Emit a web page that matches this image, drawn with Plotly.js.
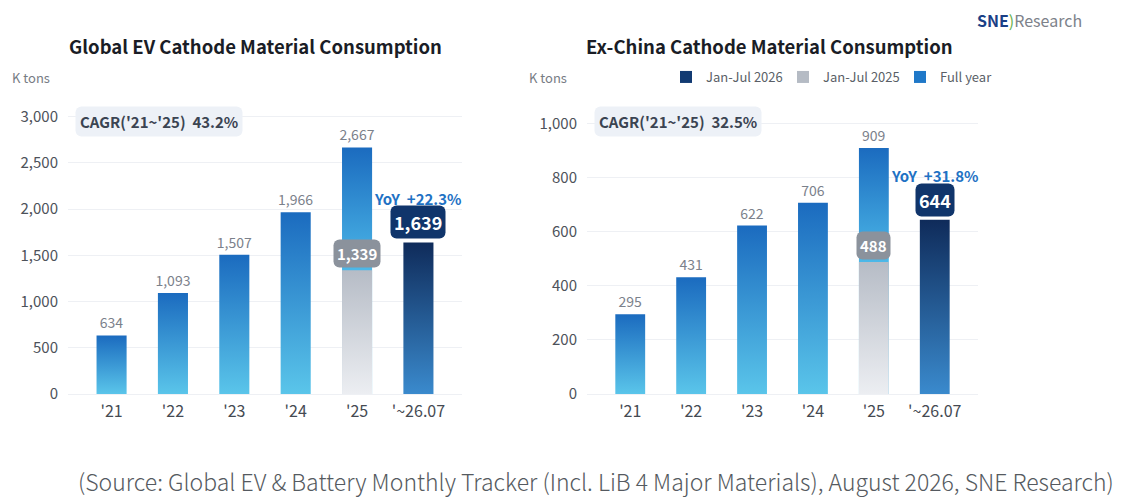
<!DOCTYPE html>
<html>
<head>
<meta charset="utf-8">
<script src="https://cdn.plot.ly/plotly-3.0.1.min.js"></script>
<style>
  html, body { margin: 0; padding: 0; background: #fff; }
  #chart { width: 1121px; height: 498px; }
</style>
</head>
<body>
<div id="chart"></div>
<script>
// ---------- data ----------
const categories = ["'21", "'22", "'23", "'24", "'25", "'~26.07"];
const fullYearCats = ["'21", "'22", "'23", "'24", "'25"];

const globalFullYear = [634, 1093, 1507, 1966, 2667];
const globalJanJul2025 = [1339];
const globalJanJul2026 = [1639];
const globalCagr = "43.2%";
const globalYoY = "+22.3%";

const exChinaFullYear = [295, 431, 622, 706, 909];
const exChinaJanJul2025 = [488];
const exChinaJanJul2026 = [644];
const exChinaCagr = "32.5%";
const exChinaYoY = "+31.8%";

const seriesNames = ["Jan-Jul 2026", "Jan-Jul 2025", "Full year"];

// ---------- style ----------
const FONT = "'Noto Sans CJK KR', 'Noto Sans', sans-serif";
const C_NAVY = "#123a72";
const C_GREY = "#b5bbc4";
const C_BLUE = "#1f78c8";
const NB = "\u00a0";
const fmt = v => v.toLocaleString('en-US');

function traces(full, jan25, jan26, xa, ya, showLegend) {
  return [
    { type: 'bar', name: seriesNames[2], x: fullYearCats, y: full, xaxis: xa, yaxis: ya,
      marker: { color: C_BLUE }, width: 0.49, legendrank: 3, showlegend: showLegend,
      text: full.map(fmt), textposition: 'outside', cliponaxis: false, constraintext: 'none',
      textfont: { family: FONT, size: 14, color: '#7b818b' }, meta: 'full', hoverinfo: 'x+y' },
    { type: 'bar', name: seriesNames[1], x: [categories[4]], y: jan25, xaxis: xa, yaxis: ya,
      marker: { color: C_GREY }, width: 0.49, legendrank: 2, showlegend: showLegend,
      meta: 'jan25', hoverinfo: 'x+y' },
    { type: 'bar', name: seriesNames[0], x: [categories[5]], y: jan26, xaxis: xa, yaxis: ya,
      marker: { color: C_NAVY }, width: 0.49, legendrank: 1, showlegend: showLegend,
      meta: 'jan26', hoverinfo: 'x+y' }
  ];
}

const data = [
  ...traces(globalFullYear, globalJanJul2025, globalJanJul2026, 'x', 'y', false),
  ...traces(exChinaFullYear, exChinaJanJul2025, exChinaJanJul2026, 'x2', 'y2', true)
];

const W = 1121, H = 498, MT = 100, MB = 104;
const PH = H - MT - MB;
const px = x => x / W;
const py = y => (H - MB - y) / PH;

function badges(xa, ya, jan25, jan26, yoy, cagr) {
  const xd = xa === 'x' ? 'x domain' : 'x2 domain';
  const yd = ya === 'y' ? 'y domain' : 'y2 domain';
  return [
    { xref: xd, yref: yd, x: 0.017, y: 0.927, xanchor: 'left', yanchor: 'middle', showarrow: false,
      text: '<b>CAGR(\'21~\'25)' + NB + NB + cagr + '</b>', bgcolor: '#edf1f7', borderpad: 4,
      font: { family: FONT, size: 15, color: '#3b4452' } },
    { xref: xa, yref: ya, x: categories[4], y: jan25[0], xanchor: 'center', yanchor: 'bottom',
      yshift: 2, showarrow: false, text: '<b>' + fmt(jan25[0]) + '</b>', bgcolor: '#8b929c',
      borderpad: 3, font: { family: FONT, size: 15, color: '#ffffff' } },
    { xref: xa, yref: ya, x: categories[5], y: jan26[0], xanchor: 'center', yanchor: 'bottom',
      yshift: 3, showarrow: false, text: '<b>' + fmt(jan26[0]) + '</b>', bgcolor: '#10356b',
      borderpad: 3, font: { family: FONT, size: 18, color: '#ffffff' } },
    { xref: xa, yref: ya, x: categories[5], y: jan26[0], xanchor: 'center', yanchor: 'middle',
      yshift: 44, showarrow: false, text: '<b>YoY' + NB + NB + yoy + '</b>',
      font: { family: FONT, size: 15, color: '#1f72c4' } }
  ];
}

const axisX = domain => ({
  domain: domain, type: 'category', categoryorder: 'array', categoryarray: categories,
  range: [-0.71, 5.71], showgrid: false, zeroline: false, showline: false, ticks: '',
  tickfont: { family: FONT, size: 16, color: '#454a52' }, ticklabelstandoff: 6, fixedrange: true
});
const axisY = (range, dtick) => ({
  range: range, dtick: dtick, tickformat: ',d', showgrid: true, gridcolor: '#eef0f4', gridwidth: 1,
  zeroline: true, zerolinecolor: '#eef0f4', zerolinewidth: 1, showline: false, ticks: '',
  tickfont: { family: FONT, size: 15, color: '#4d525a' }, ticklabelstandoff: 9, fixedrange: true
});

const layout = {
  width: W, height: H,
  margin: { l: 0, r: 0, t: MT, b: MB, pad: 0 },
  paper_bgcolor: '#ffffff', plot_bgcolor: '#ffffff',
  font: { family: FONT },
  barmode: 'overlay', bargap: 0.5,
  xaxis: axisX([px(68), px(462)]),
  yaxis: axisY([0, 3180], 500),
  xaxis2: Object.assign(axisX([px(587), px(978)]), { anchor: 'y2' }),
  yaxis2: Object.assign(axisY([0, 1086], 200), { anchor: 'x2' }),
  showlegend: true,
  legend: { orientation: 'h', x: px(666), y: py(77), xanchor: 'left', yanchor: 'middle',
    entrywidth: 72, entrywidthmode: 'pixels',
    font: { family: FONT, size: 13, color: '#5a5f67' }, traceorder: 'normal',
    bgcolor: 'rgba(0,0,0,0)', itemclick: false, itemdoubleclick: false },
  annotations: [
    { xref: 'paper', yref: 'paper', x: px(255), y: py(46), xanchor: 'center', yanchor: 'middle',
      showarrow: false, text: '<b>Global EV Cathode Material Consumption</b>',
      font: { family: FONT, size: 18.5, color: '#1a1d26' } },
    { xref: 'paper', yref: 'paper', x: px(769), y: py(46), xanchor: 'center', yanchor: 'middle',
      showarrow: false, text: '<b>Ex-China Cathode Material Consumption</b>',
      font: { family: FONT, size: 18.5, color: '#1a1d26' } },
    { xref: 'paper', yref: 'paper', x: px(10), y: py(77), xanchor: 'left', yanchor: 'middle',
      showarrow: false, text: 'K tons', font: { family: FONT, size: 13, color: '#777c84' } },
    { xref: 'paper', yref: 'paper', x: px(527), y: py(77), xanchor: 'left', yanchor: 'middle',
      showarrow: false, text: 'K tons', font: { family: FONT, size: 13, color: '#777c84' } },
    { xref: 'paper', yref: 'paper', x: px(975), y: py(20), xanchor: 'left', yanchor: 'middle',
      showarrow: false,
      text: "<b><span style='color:#1b3f86'>SNE</span></b><span style='color:#66b04a'>)</span><span style='color:#7d828a'>Research</span>",
      font: { family: FONT, size: 16, color: '#7d828a' } },
    { xref: 'paper', yref: 'paper', x: px(596), y: py(481), xanchor: 'center', yanchor: 'middle',
      showarrow: false,
      text: '(Source: Global EV & Battery Monthly Tracker (Incl. LiB 4 Major Materials), August 2026, SNE Research)',
      font: { family: FONT, size: 23, color: '#555a60', weight: 300 } },
    ...badges('x', 'y', globalJanJul2025, globalJanJul2026, globalYoY, globalCagr),
    ...badges('x2', 'y2', exChinaJanJul2025, exChinaJanJul2026, exChinaYoY, exChinaCagr)
  ]
};

function addGradient(defs, id, stops) {
  const ns = 'http://www.w3.org/2000/svg';
  const g = document.createElementNS(ns, 'linearGradient');
  g.setAttribute('id', id);
  g.setAttribute('x1', '0'); g.setAttribute('y1', '0');
  g.setAttribute('x2', '0'); g.setAttribute('y2', '1');
  stops.forEach(([off, col]) => {
    const s = document.createElementNS(ns, 'stop');
    s.setAttribute('offset', off);
    s.setAttribute('stop-color', col);
    g.appendChild(s);
  });
  defs.appendChild(g);
}

const gd = document.getElementById('chart');
Plotly.newPlot(gd, data, layout, { displayModeBar: false, staticPlot: false }).then(() => {
  const svg = gd.querySelector('.main-svg');
  let defs = svg.querySelector('defs');
  if (!defs) { defs = document.createElementNS('http://www.w3.org/2000/svg', 'defs'); svg.prepend(defs); }
  addGradient(defs, 'gFull', [[0, '#1b6bbf'], [1, '#5ac5ea']]);
  addGradient(defs, 'gGrey', [[0, '#b6bcc6'], [1, '#eceef2']]);
  addGradient(defs, 'gNavy', [[0, '#0f2b5a'], [1, '#3a8acd']]);
  const f1 = 1 - globalJanJul2025[0] / globalFullYear[4];
  const f2 = 1 - exChinaJanJul2025[0] / exChinaFullYear[4];
  addGradient(defs, 'gFull25a', [[0, '#1b6bbf'], [f1, '#4cb8e8'], [1, '#4cb8e8']]);
  addGradient(defs, 'gFull25b', [[0, '#1b6bbf'], [f2, '#4cb8e8'], [1, '#4cb8e8']]);

  gd.querySelectorAll('.barlayer .trace').forEach(tg => {
    const cd = tg.__data__;
    if (!cd || !cd[0]) return;
    const tr = cd[0].trace;
    tg.querySelectorAll('.point path').forEach((p, i) => {
      let id = 'gFull';
      if (tr.meta === 'jan25') id = 'gGrey';
      else if (tr.meta === 'jan26') id = 'gNavy';
      else if (i === 4) id = tr.xaxis === 'x' ? 'gFull25a' : 'gFull25b';
      p.style.fill = 'url(#' + id + ')';
    });
  });
  gd.querySelectorAll('.annotation rect.bg').forEach(r => {
    r.setAttribute('rx', 6); r.setAttribute('ry', 6);
  });
});
</script>
</body>
</html>
